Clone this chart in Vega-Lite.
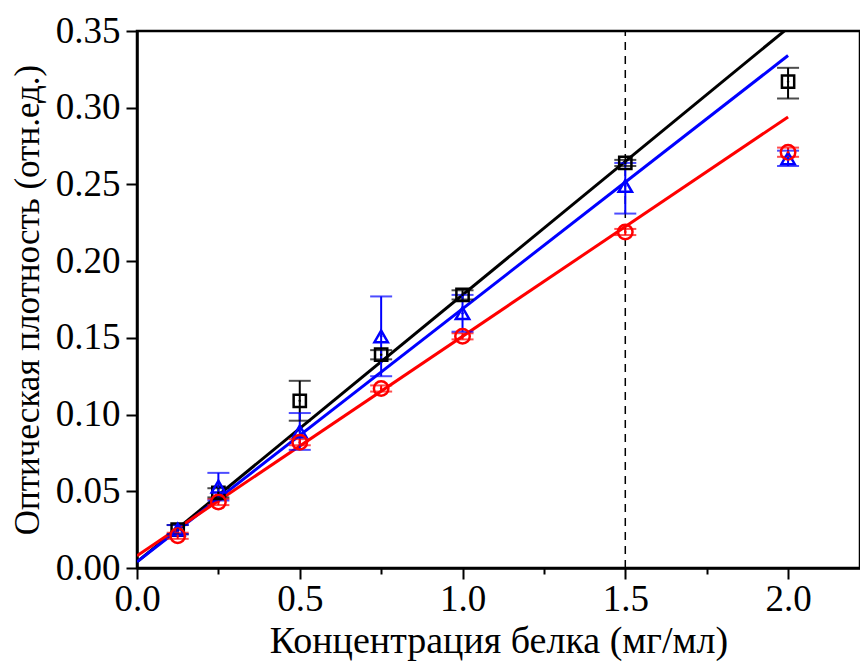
{
  "$schema": "https://vega.github.io/schema/vega-lite/v6.json",
  "autosize": {"type": "none"},
  "padding": {"left": 137, "top": 31, "right": 0, "bottom": 98},
  "width": 723,
  "height": 537,
  "background": "white",
  "config": {
    "view": {"stroke": "black", "strokeWidth": 2.5},
    "axis": {
      "domainColor": "black", "domainWidth": 2.5,
      "tickColor": "black", "tickWidth": 2,
      "labelColor": "black", "titleColor": "black", "titleFontWeight": "normal",
      "grid": false, "labelOverlap": false, "labelFlush": false, "labelBound": false
    }
  },
  "datasets": {
    "pts": [
      {"series": "A", "x": 0.125, "y": 0.025, "lo": 0.022, "hi": 0.028},
      {"series": "A", "x": 0.25, "y": 0.049, "lo": 0.046, "hi": 0.052},
      {"series": "A", "x": 0.5, "y": 0.109, "lo": 0.096, "hi": 0.122},
      {"series": "A", "x": 0.75, "y": 0.139, "lo": 0.136, "hi": 0.142},
      {"series": "A", "x": 1.0, "y": 0.178, "lo": 0.175, "hi": 0.181},
      {"series": "A", "x": 1.5, "y": 0.264, "lo": 0.262, "hi": 0.266},
      {"series": "A", "x": 2.0, "y": 0.317, "lo": 0.306, "hi": 0.326},
      {"series": "B", "x": 0.125, "y": 0.025, "lo": 0.022, "hi": 0.028},
      {"series": "B", "x": 0.25, "y": 0.053, "lo": 0.044, "hi": 0.062},
      {"series": "B", "x": 0.5, "y": 0.089, "lo": 0.077, "hi": 0.101},
      {"series": "B", "x": 0.75, "y": 0.151, "lo": 0.125, "hi": 0.177},
      {"series": "B", "x": 1.0, "y": 0.166, "lo": 0.154, "hi": 0.178},
      {"series": "B", "x": 1.5, "y": 0.249, "lo": 0.231, "hi": 0.264},
      {"series": "B", "x": 2.0, "y": 0.267, "lo": 0.262, "hi": 0.272},
      {"series": "C", "x": 0.125, "y": 0.021, "lo": 0.019, "hi": 0.023},
      {"series": "C", "x": 0.25, "y": 0.043, "lo": 0.041, "hi": 0.045},
      {"series": "C", "x": 0.5, "y": 0.082, "lo": 0.080, "hi": 0.084},
      {"series": "C", "x": 0.75, "y": 0.117, "lo": 0.115, "hi": 0.119},
      {"series": "C", "x": 1.0, "y": 0.151, "lo": 0.149, "hi": 0.153},
      {"series": "C", "x": 1.5, "y": 0.219, "lo": 0.217, "hi": 0.221},
      {"series": "C", "x": 2.0, "y": 0.271, "lo": 0.268, "hi": 0.274}
    ],
    "fits": [
      {"series": "A", "x": 0, "y": 0.004},
      {"series": "A", "x": 2.0, "y": 0.352},
      {"series": "B", "x": 0, "y": 0.004},
      {"series": "B", "x": 2.0, "y": 0.334},
      {"series": "C", "x": 0, "y": 0.008},
      {"series": "C", "x": 2.0, "y": 0.294}
    ],
    "vline": [{"x": 1.5}]
  },
  "layer": [
    {
      "data": {"name": "vline"},
      "mark": {"type": "rule", "color": "black", "strokeWidth": 1.5, "strokeDash": [8, 6]},
      "encoding": {
        "x": {"field": "x", "type": "quantitative",
          "scale": {"domain": [0, 2.221], "nice": false, "zero": false},
          "axis": {
            "values": [0, 0.25, 0.5, 0.75, 1.0, 1.25, 1.5, 1.75, 2.0],
            "labelExpr": "abs(round(datum.value*2) - datum.value*2) > 0.01 ? '' : format(datum.value, '.1f')",
            "tickSize": {"condition": {"test": "abs(round(datum.value*2) - datum.value*2) > 0.01", "value": 6}, "value": 11},
            "labelFont": "Liberation Serif", "labelFontSize": 37,
            "titleFont": "Liberation Serif", "titleFontSize": 38,
            "labelPadding": 2,
            "title": "Концентрация белка (мг/мл)",
            "titlePadding": 5
          }
        },
        "y": {"datum": 0, "type": "quantitative"},
        "y2": {"datum": 0.35}
      }
    },
    {
      "data": {"name": "fits"},
      "mark": {"type": "line", "strokeWidth": 3, "clip": true},
      "encoding": {
        "x": {"field": "x", "type": "quantitative"},
        "y": {"field": "y", "type": "quantitative",
          "scale": {"domain": [0, 0.35], "nice": false, "zero": false},
          "axis": {
            "values": [0, 0.025, 0.05, 0.075, 0.1, 0.125, 0.15, 0.175, 0.2, 0.225, 0.25, 0.275, 0.3, 0.325, 0.35],
            "labelExpr": "abs(round(datum.value*20) - datum.value*20) > 0.01 ? '' : format(datum.value, '.2f')",
            "tickSize": {"condition": {"test": "abs(round(datum.value*20) - datum.value*20) > 0.01", "value": 6}, "value": 11},
            "labelFont": "Liberation Serif", "labelFontSize": 37,
            "titleFont": "Liberation Serif", "titleFontSize": 35,
            "labelPadding": 6,
            "title": "Оптическая плотность (отн.ед.)",
            "titlePadding": 10
          }
        },
        "color": {"field": "series", "type": "nominal", "scale": {"domain": ["A", "B", "C"], "range": ["#000000", "#0000ff", "#ff0000"]}, "legend": null},
        "order": {"field": "series"}
      }
    },
    {
      "data": {"name": "pts"},
      "mark": {"type": "rule", "strokeWidth": 2},
      "encoding": {
        "x": {"field": "x", "type": "quantitative"},
        "y": {"field": "lo", "type": "quantitative"},
        "y2": {"field": "hi"},
        "color": {"field": "series", "type": "nominal", "legend": null}
      }
    },
    {
      "data": {"name": "pts"},
      "mark": {"type": "tick", "orient": "horizontal", "size": 22, "thickness": 2},
      "encoding": {
        "x": {"field": "x", "type": "quantitative"},
        "y": {"field": "hi", "type": "quantitative"},
        "color": {"field": "series", "type": "nominal", "legend": null}
      }
    },
    {
      "data": {"name": "pts"},
      "mark": {"type": "tick", "orient": "horizontal", "size": 22, "thickness": 2},
      "encoding": {
        "x": {"field": "x", "type": "quantitative"},
        "y": {"field": "lo", "type": "quantitative"},
        "color": {"field": "series", "type": "nominal", "legend": null}
      }
    },
    {
      "data": {"name": "pts"},
      "mark": {"type": "point", "filled": false, "strokeWidth": 2.5, "opacity": 1},
      "encoding": {
        "x": {"field": "x", "type": "quantitative"},
        "y": {"field": "y", "type": "quantitative"},
        "color": {"field": "series", "type": "nominal", "legend": null},
        "shape": {"field": "series", "type": "nominal", "scale": {"domain": ["A", "B", "C"], "range": ["square", "triangle-up", "circle"]}, "legend": null},
        "size": {"field": "series", "type": "nominal", "scale": {"domain": ["A", "B", "C"], "range": [150, 210, 180]}, "legend": null}
      }
    },
    {
      "data": {"name": "pts"},
      "mark": {"type": "point", "filled": true, "size": 6, "opacity": 1},
      "encoding": {
        "x": {"field": "x", "type": "quantitative"},
        "y": {"field": "y", "type": "quantitative"},
        "color": {"field": "series", "type": "nominal", "legend": null}
      }
    }
  ]
}
